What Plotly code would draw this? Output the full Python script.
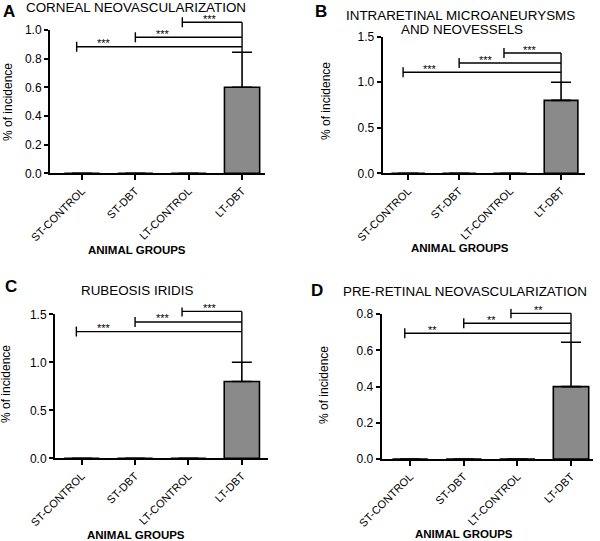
import plotly.graph_objects as go

W, H = 600, 541

groups = ["ST-CONTROL", "ST-DBT", "LT-CONTROL", "LT-DBT"]
letters = ["A", "B", "C", "D"]
titles = [["CORNEAL NEOVASCULARIZATION"],
          ["INTRARETINAL MICROANEURYSMS", "AND NEOVESSELS"],
          ["RUBEOSIS IRIDIS"],
          ["PRE-RETINAL NEOVASCULARIZATION"]]

corneal_mean = [0, 0, 0, 0.6]
corneal_sem = [0, 0, 0, 0.245]
intraretinal_mean = [0, 0, 0, 0.8]
intraretinal_sem = [0, 0, 0, 0.2]
rubeosis_mean = [0, 0, 0, 0.8]
rubeosis_sem = [0, 0, 0, 0.2]
preretinal_mean = [0, 0, 0, 0.4]
preretinal_sem = [0, 0, 0, 0.245]

corneal_brackets = [0.883, 0.949, 1.054]
intraretinal_brackets = [1.11, 1.21, 1.32]
rubeosis_brackets = [1.32, 1.42, 1.53]
preretinal_brackets = [0.695, 0.75, 0.805]

corneal_sig = ["***", "***", "***"]
intraretinal_sig = ["***", "***", "***"]
rubeosis_sig = ["***", "***", "***"]
preretinal_sig = ["**", "**", "**"]

bracket_from = [0, 1, 2]   # compared group index, against LT-DBT
bracket_to = 3

y_ticks = [[0, 0.2, 0.4, 0.6, 0.8, 1.0],
           [0, 0.5, 1.0, 1.5],
           [0, 0.5, 1.0, 1.5],
           [0, 0.2, 0.4, 0.6, 0.8]]

means = [corneal_mean, intraretinal_mean, rubeosis_mean, preretinal_mean]
sems = [corneal_sem, intraretinal_sem, rubeosis_sem, preretinal_sem]
brackets = [corneal_brackets, intraretinal_brackets, rubeosis_brackets, preretinal_brackets]
sigs = [corneal_sig, intraretinal_sig, rubeosis_sig, preretinal_sig]

# panel geometry in pixels: left, right, zero_px, px_per_unit, range_top, xrange
geom = [
    dict(left=50, right=265, zero=173.3, unit=143.3, top=1.09, xr=[-0.6, 3.43]),
    dict(left=382.7, right=585, zero=173.3, unit=91.1, top=1.52, xr=[-0.5, 3.47]),
    dict(left=55, right=268, zero=458.3, unit=96.0, top=1.57, xr=[-0.5, 3.49]),
    dict(left=381.7, right=593, zero=459, unit=180.9, top=0.83, xr=[-0.53, 3.41]),
]
bracket_shift = [-0.1, 0.0, -0.12]

FONT = "Liberation Sans, Arial, sans-serif"

def px(x):
    return x / W

def py(y):
    return (H - y) / H

fig = go.Figure()
layout = dict(width=W, height=H, margin=dict(l=0, r=0, t=0, b=0, autoexpand=False),
              paper_bgcolor="white", plot_bgcolor="rgba(0,0,0,0)", showlegend=False,
              font=dict(family=FONT, color="black"))
annotations = []

for i in range(4):
    g = geom[i]
    xa = f"x{i+1}" if i else "x"
    ya = f"y{i+1}" if i else "y"
    yb = f"y{i+5}"
    ymax = y_ticks[i][-1]
    zero_p = py(g["zero"])
    vis_top = py(g["zero"] - ymax * g["unit"])
    ext_top = py(g["zero"] - g["top"] * g["unit"])

    layout[f"xaxis{i+1}"] = dict(
        domain=[px(g["left"]), px(g["right"])], range=g["xr"], anchor=ya,
        tickvals=[0, 1, 2, 3], ticktext=groups, tickangle=-45,
        ticks="outside", ticklen=5, tickwidth=2, tickcolor="black",
        showline=True, linewidth=2, linecolor="black", showgrid=False, zeroline=False,
        automargin=False,
        tickfont=dict(size=11, family=FONT, color="black"), fixedrange=True)
    layout[f"yaxis{i+1}"] = dict(
        domain=[zero_p, vis_top], range=[0, ymax], anchor=xa,
        tickvals=y_ticks[i], tickformat=".1f",
        ticks="outside", ticklen=4, tickwidth=2, tickcolor="black",
        showline=True, linewidth=2, linecolor="black", showgrid=False, zeroline=False,
        automargin=False,
        tickfont=dict(size=12, family=FONT, color="black"))
    layout[f"yaxis{i+5}"] = dict(
        domain=[zero_p, ext_top], range=[0, g["top"]], anchor=xa, visible=False,
        automargin=False, showgrid=False, zeroline=False)

    fig.add_trace(go.Bar(
        x=[0, 1, 2, 3], y=means[i], width=0.66, xaxis=xa, yaxis=ya,
        marker=dict(color="#8a8a8a", line=dict(color="black", width=1.6)),
        error_y=dict(type="data", symmetric=False, array=sems[i],
                     arrayminus=[0, 0, 0, 0], color="black", thickness=1.6, width=10)))

    d = 5.0 / g["unit"]
    bx, by = [], []
    for k, lvl in enumerate(brackets[i]):
        s = bracket_from[k] + bracket_shift[k]
        bx += [s, s, None, s, bracket_to, None]
        by += [lvl - d, lvl + d, None, lvl, lvl, None]
        annotations.append(dict(
            x=s + 0.52, y=lvl, xref=xa, yref=yb, text=sigs[i][k], showarrow=False,
            xanchor="center", yanchor="middle", yshift=3.5, borderpad=0,
            font=dict(size=11, family=FONT, color="black")))
    top_err = means[i][3] + sems[i][3]
    bx += [bracket_to, bracket_to]
    by += [max(brackets[i]), top_err]
    fig.add_trace(go.Scatter(x=bx, y=by, mode="lines", xaxis=xa, yaxis=yb,
                             line=dict(color="black", width=1.4), hoverinfo="skip"))

layout["xaxis"] = layout.pop("xaxis1")
layout["yaxis"] = layout.pop("yaxis1")

# panel letters
for lt, (x, y) in zip(letters, [(8.5, 11), (321, 11), (10.5, 286), (317, 291)]):
    annotations.append(dict(x=px(x), y=py(y), xref="paper", yref="paper", text=f"<b>{lt}</b>",
                            showarrow=False, xanchor="center", yanchor="middle", borderpad=0,
                            font=dict(size=17, family=FONT, color="black")))

# titles
title_pos = [[(25, 7.5, "left")], [(460, 15, "center"), (462, 29.5, "center")],
             [(136.5, 290, "center")], [(342, 291.5, "left")]]
for lines, poss in zip(titles, title_pos):
    for t, (x, y, anc) in zip(lines, poss):
        annotations.append(dict(x=px(x), y=py(y), xref="paper", yref="paper", text=t,
                                showarrow=False, xanchor=anc, yanchor="middle", borderpad=0,
                                font=dict(size=13.4, family=FONT, color="black")))

# y titles
for x, y in [(8, 102), (326, 101), (6, 384), (324, 385)]:
    annotations.append(dict(x=px(x), y=py(y), xref="paper", yref="paper", text="% of incidence",
                            textangle=-90, showarrow=False, xanchor="center", yanchor="middle",
                            borderpad=0, font=dict(size=12, family=FONT, color="black")))

# x titles
for x, y in [(137, 250), (460, 248), (136, 535), (464, 534)]:
    annotations.append(dict(x=px(x), y=py(y), xref="paper", yref="paper", text="<b>ANIMAL GROUPS</b>",
                            showarrow=False, xanchor="center", yanchor="middle", borderpad=0,
                            font=dict(size=11.5, family=FONT, color="black")))

layout["annotations"] = annotations
fig.update_layout(**layout)
fig.write_html("out.html", config={"displayModeBar": False},
               post_script="document.body.style.margin='0';document.body.style.overflow='hidden';")
